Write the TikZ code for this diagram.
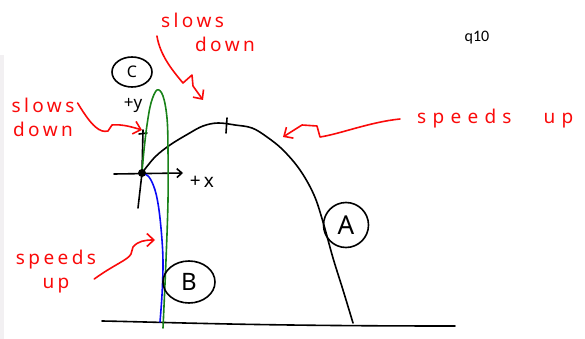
\documentclass[tikz,border=0pt]{standalone}
\usepackage{fontspec}
\setmainfont{Noto Sans}
\newfontfamily\qfont{Carlito}
\usetikzlibrary{arrows.meta,shapes.geometric}
\definecolor{penred}{RGB}{250,10,10}
\definecolor{pengreen}{RGB}{25,130,25}
\definecolor{penblue}{RGB}{10,10,245}
\definecolor{stripgray}{RGB}{242,240,242}
\begin{document}
\begin{tikzpicture}[x=1pt,y=-1pt,line cap=round,line join=round,
  ink/.style={line width=1.6pt},
  redarrow/.style={ink,draw=penred,-{Straight Barb[length=7pt,width=13pt,line width=1.6pt]}},
  redtext/.style={text=penred,font=\fontsize{19}{24}\selectfont\addfontfeature{LetterSpace=18},align=center,inner sep=0pt},
  blacktext/.style={text=black,font=\fontsize{19}{20}\selectfont,inner sep=0pt},
  tag/.style={ink,draw=black,ellipse,inner sep=0pt,text=black}]
\useasboundingbox (0,0) rectangle (585,339);
\fill[stripgray] (0,55) rectangle (4,339);

% ground
\draw[ink] (102,321) .. controls (160,322) and (250,326) .. (455,326);

% origin and axes
\coordinate (O) at (142,173);
\coordinate (xl) at (114,174);
\coordinate (xr) at (183,173);
\coordinate (yb) at (138,208);
\coordinate (yt) at (143,130);
\draw[ink,-{Straight Barb[length=5pt,width=9pt]}] (xl) -- (xr);
\draw[ink] (yb) .. controls (140,190) .. (O) -- (yt);
\draw[ink] (139,134) -- (147,133);
\node[blacktext] (px) at (202,182) {+\,x};
\node[blacktext,font=\fontsize{17}{18}\selectfont] (py) at (133,105) {+y};

% trajectory A
\draw[ink] plot[smooth,tension=0.6] coordinates {(142,173) (155,157) (170,145) (188,134) (203,126) (218,123) (235,125) (252,128) (267,137) (283,150) (300,170) (314,195) (323,222) (333,258) (343,290) (353,323)};
\draw[ink] (227,118) -- (226,133);
% trajectory C
\draw[ink,draw=pengreen] plot[smooth,tension=0.6] coordinates {(142,172) (144,150) (147,125) (151,103) (157,90) (163,96) (167,118) (168,150) (168,200) (166,260) (163,328)};
% trajectory B
\draw[ink,draw=penblue] plot[smooth,tension=0.6] coordinates {(142,173) (149,177) (155,190) (159,210) (162,240) (163,265) (162,295) (160,322)};
\fill (O) circle (4);

% tags
\node[tag,minimum width=45,minimum height=45,font=\fontsize{26}{28}\selectfont] (A) at (346,225) {A};
\node[tag,minimum width=52,minimum height=42,font=\fontsize{24}{26}\selectfont] (B) at (189,282) {B};
\node[tag,minimum width=40,minimum height=30,font=\fontsize{16}{16}\selectfont] (C) at (132,72) {C};

% q10
\node[font=\qfont\fontsize{16}{18}\selectfont,inner sep=0pt] (q) at (477,38) {q10};

% red labels
\node[redtext,align=left] (sdtop) at (208,32) {slows\\\hspace*{34pt}down};
\node[redtext] (sdleft) at (43,117) {slows\\down};
\node[redtext] (suleft) at (56,272) {speeds\\up};
\node[redtext,anchor=west,font=\fontsize{19}{24}\selectfont\addfontfeature{LetterSpace=33}] (suright) at (417,119) {speeds\hspace{32pt}up};

% red arrows
\coordinate (ttop) at (203,100);
\coordinate (tleft) at (142,130);
\coordinate (tbl) at (155,240);
\coordinate (tright) at (283,137);
\draw[redarrow] ([xshift=-4pt,yshift=-4pt]sdtop.west) .. controls (160,55) and (172,70) .. (183,83) -- (192,75) -- (193,86) -- (ttop);
\draw[redarrow] ([xshift=3pt,yshift=14pt]sdleft.east) .. controls (92,127) and (100,133) .. (108,131) -- (112,125) .. controls (122,124) and (132,127) .. (tleft);
\draw[redarrow] ([xshift=-2pt,yshift=-7pt]suleft.east) .. controls (115,264) and (128,260) .. (131,254) -- (133,247) .. controls (138,241) and (145,240) .. (tbl);
\draw[redarrow] ([xshift=-17pt]suright.west) .. controls (370,122) and (340,134) .. (320,137) -- (317,126) -- (302,125) -- (tright);
\end{tikzpicture}
\end{document}
